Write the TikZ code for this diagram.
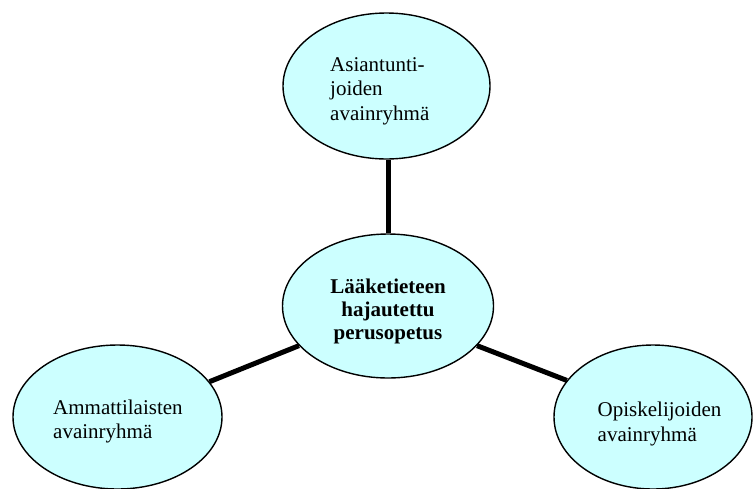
\documentclass[tikz,border=0pt]{standalone}
\usepackage{fontspec}
\setmainfont{Liberation Serif}
\usetikzlibrary{shapes.geometric,backgrounds}
\definecolor{bubblefill}{HTML}{CCFFFF}
\begin{document}
\begin{tikzpicture}[x=1pt,y=-1pt,
  bubble/.style={ellipse, draw=black, line width=1.4pt, fill=bubblefill, inner sep=0pt},
  lbl/.style={inner sep=0pt, align=left, font=\fontsize{21}{24.5}\selectfont},
  hublbl/.style={inner sep=0pt, align=center, font=\fontsize{21}{23}\selectfont\bfseries},
  link/.style={line width=5pt}]
\useasboundingbox (0,0) rectangle (754,488);

% the four groups
\node[bubble, minimum width=207, minimum height=146] (t) at (386.5,86) {};
\node[bubble, minimum width=211, minimum height=144] (c) at (388,306) {};
\node[bubble, minimum width=209, minimum height=144] (l) at (117.5,417) {};
\node[bubble, minimum width=198, minimum height=144] (r) at (653,417) {};

% their texts
\node[lbl, anchor=north west] (tt) at (330,53.8) {\strut Asiantunti-\\joiden\\avainryhmä};
\node[hublbl, anchor=north] (ct) at (388,276.9) {\strut Lääketieteen\\hajautettu\\perusopetus};
\node[lbl, anchor=north west] (lt) at (53,396.9) {\strut Ammattilaisten\\avainryhmä};
\node[lbl, anchor=north west] (rt) at (597.5,399.4) {\strut Opiskelijoiden\\avainryhmä};

% links from the hub, kept behind the ellipses
\begin{scope}[on background layer]
  \fill[white] (0,0) rectangle (754,488);
  \draw[link] (t.south -| c.north) -- (c.north);
  \draw[link] (c.204.5) -- (l.21.1);
  \draw[link] (c.336.6) -- (r.157.1);
\end{scope}
\end{tikzpicture}
\end{document}
